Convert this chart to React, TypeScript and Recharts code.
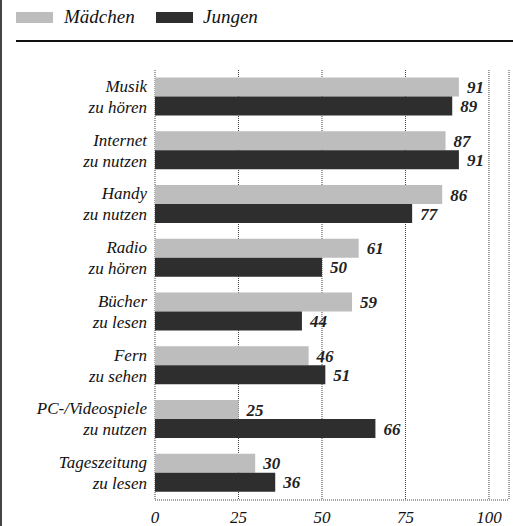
import { BarChart, Bar, XAxis, YAxis, CartesianGrid, LabelList } from 'recharts';

// Kategorien (zweizeilig, getrennt durch \n)
const kategorien = [
  'Musik\nzu hören',
  'Internet\nzu nutzen',
  'Handy\nzu nutzen',
  'Radio\nzu hören',
  'Bücher\nzu lesen',
  'Fern\nzu sehen',
  'PC-/Videospiele\nzu nutzen',
  'Tageszeitung\nzu lesen',
];
const maedchen = [91, 87, 86, 61, 59, 46, 25, 30];
const jungen = [89, 91, 77, 50, 44, 51, 66, 36];
const xTicks = [0, 25, 50, 75, 100];

const GRAU = '#bdbdbd';
const DUNKEL = '#2e2e2e';
const FONT = '"Liberation Serif"';

const data = kategorien.map((name, i) => ({ name, maedchen: maedchen[i], jungen: jungen[i] }));

const YTick = (props: any) => {
  const { x, y, payload } = props;
  const lines = String(payload.value).split('\n');
  return (
    <text x={x} y={y} textAnchor="end" fontFamily={FONT} fontStyle="italic" fontSize={17} fill="#111">
      <tspan x={x} dy={-5}>{lines[0]}</tspan>
      <tspan x={x} dy={21}>{lines[1]}</tspan>
    </text>
  );
};

const XTick = (props: any) => {
  const { x, y, payload } = props;
  return (
    <text x={x} y={y + 15} textAnchor="middle" fontFamily={FONT} fontStyle="italic" fontSize={17} fill="#111">
      {payload.value}
    </text>
  );
};

const labelStyle = { fontFamily: FONT, fontStyle: 'italic', fontWeight: 'bold', fontSize: 17, fill: '#222' } as const;

export default function App() {
  return (
    <div style={{ position: 'absolute', left: 0, top: 0, width: 513, height: 526, background: '#fff' }}>
      <div style={{ position: 'absolute', left: 0, top: 0, width: 2, height: 526, background: '#444' }} />
      {/* Legende */}
      <div style={{ position: 'absolute', left: 16, top: 12, width: 37, height: 11, background: GRAU }} />
      <div style={{ position: 'absolute', left: 64, top: 5, fontFamily: FONT, fontStyle: 'italic', fontSize: 19, color: '#111', lineHeight: '24px' }}>Mädchen</div>
      <div style={{ position: 'absolute', left: 156, top: 12, width: 37, height: 11, background: DUNKEL }} />
      <div style={{ position: 'absolute', left: 203, top: 5, fontFamily: FONT, fontStyle: 'italic', fontSize: 19, color: '#111', lineHeight: '24px' }}>Jungen</div>
      <div style={{ position: 'absolute', left: 16, top: 40, width: 497, height: 1.5, background: '#111' }} />

      <BarChart
        width={513}
        height={526}
        data={data}
        layout="vertical"
        margin={{ top: 70, right: 4, bottom: 2, left: 0 }}
        barCategoryGap="14%"
        barGap={0}
      >
        <CartesianGrid horizontal={false} stroke="#444" strokeDasharray="1 1" />
        <XAxis
          type="number"
          domain={[0, 106]}
          ticks={xTicks}
          tickLine={false}
          axisLine={{ stroke: '#444', strokeDasharray: '1 1' }}
          tick={<XTick />}
          height={24}
        />
        <YAxis
          type="category"
          dataKey="name"
          width={155}
          axisLine={false}
          tickLine={false}
          tick={<YTick />}
          interval={0}
        />
        <Bar dataKey="maedchen" fill={GRAU} isAnimationActive={false}>
          <LabelList dataKey="maedchen" position="right" offset={8} style={labelStyle} />
        </Bar>
        <Bar dataKey="jungen" fill={DUNKEL} isAnimationActive={false}>
          <LabelList dataKey="jungen" position="right" offset={8} style={labelStyle} />
        </Bar>
      </BarChart>
    </div>
  );
}
